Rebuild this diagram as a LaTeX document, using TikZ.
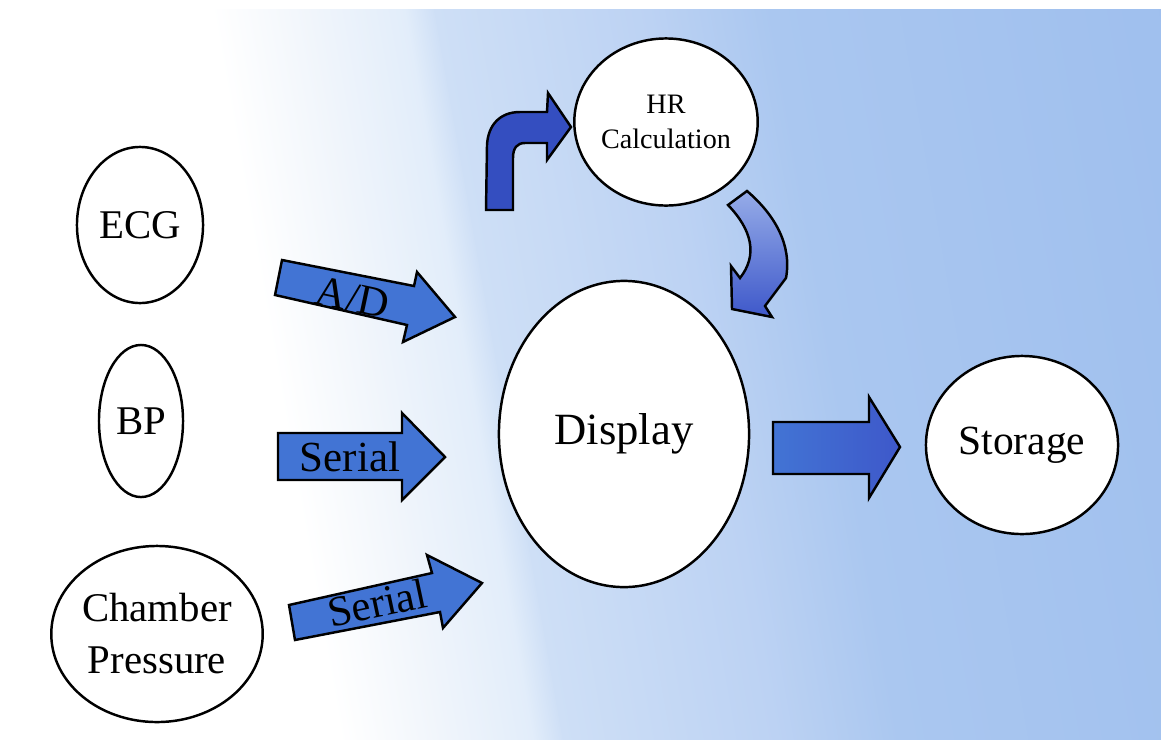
\documentclass[tikz,border=0pt]{standalone}
\usepackage{fontspec}
\setmainfont{Liberation Serif}
\usetikzlibrary{shapes.geometric}
\definecolor{bgA}{RGB}{240,245,251}
\definecolor{bgB}{RGB}{226,237,250}
\definecolor{bgC}{RGB}{206,223,246}
\definecolor{bgD}{RGB}{188,210,243}
\definecolor{bgE}{RGB}{170,199,240}
\definecolor{bgF}{RGB}{156,189,237}
\definecolor{arrowblue}{RGB}{66,116,212}
\definecolor{darkarrow}{RGB}{52,78,192}
\definecolor{paleblue}{RGB}{150,172,232}
\definecolor{deepblue}{RGB}{62,88,202}
\tikzset{
  blob/.style={ellipse, draw=black, line width=0.7pt, fill=white, inner sep=0pt},
  blockarrow/.style={draw=black, line width=0.7pt, fill=arrowblue, line join=miter},
  arrowtext/.style={inner sep=0pt, font=\fontsize{12.2}{13}\selectfont}
}

\begin{document}
\begin{tikzpicture}[x=0.01cm, y=-0.01cm]
  \useasboundingbox (0,0) rectangle (1161,739);
  \fill[white] (0,0) rectangle (1161,739);
  % background, white at the left, blue towards the upper right
  \begin{scope}
    \clip (0,9) rectangle (1161,739);
    \begin{scope}[transform canvas={rotate around={10:(580,374)}}]
      \foreach \from/\to/\cfrom/\cto in {280/381/white/bgA, 380/471/bgA/bgB,
          470/501/bgB/bgC, 500/711/bgC/bgD, 710/831/bgD/bgE, 830/1340/bgE/bgF}
        \shade[left color=\cfrom, right color=\cto] (\from,-386) rectangle (\to,1134);
    \end{scope}
  \end{scope}

  % sources
  \node[blob, minimum width=1.26cm, minimum height=1.56cm,
        font=\fontsize{11.6}{13}\selectfont] (ecg) at (140,225) {ECG};
  \node[blob, minimum width=0.84cm, minimum height=1.52cm,
        font=\fontsize{11.6}{13}\selectfont] (bp) at (141,421) {BP};
  \node[blob, minimum width=2.04cm, minimum height=1.76cm, align=center,
        font=\fontsize{11.6}{14.8}\selectfont] (chamber) at (157,634) {Chamber\\Pressure};

  % centre and outputs
  \node[blob, minimum width=2.5cm, minimum height=3.06cm,
        font=\fontsize{12.7}{14}\selectfont] (display) at (624,434) {Display};
  \node[blob, minimum width=1.66cm, minimum height=1.67cm, align=center,
        font=\fontsize{8}{9.8}\selectfont] (hr) at (666,122) {HR\\Calculation};
  \node[blob, minimum width=1.92cm, minimum height=1.78cm,
        font=\fontsize{11.8}{13}\selectfont] (storage) at (1022,445) {Storage};

  % block arrows
  \draw[blockarrow] (282,260) -- (414,286) -- (417,272) -- (455,317)
    -- (403,342) -- (407,325) -- (275,295) -- cycle;
  \node[arrowtext, rotate=-12] (adtext) at (353,298) {A/D};

  \draw[blockarrow] (278,433) -- (402,433) -- (402,413) -- (445,457)
    -- (402,500) -- (402,480) -- (278,480) -- cycle;
  \node[arrowtext] (serialtext) at (350,457) {Serial};

  \draw[blockarrow] (289,605) -- (432,573) -- (427,555) -- (482,583)
    -- (443,628) -- (440,612) -- (295,640) -- cycle;
  \node[arrowtext, rotate=12] (chambertext) at (377,603) {Serial};

  \shade[draw=black, line width=0.7pt, left color=arrowblue, right color=deepblue]
    (773,422) -- (869,422) -- (869,397) -- (900,447) -- (869,498)
    -- (869,474) -- (773,474) -- cycle;

  % curved arrows round the HR calculation
  \draw[blockarrow, fill=darkarrow] (486,210) -- (487,145)
    .. controls (488,125) and (500,112) .. (520,112) -- (547,112)
    -- (548,93) -- (571,127) -- (547,160) -- (547,143) -- (525,143)
    .. controls (517,143) and (513,148) .. (513,158) -- (513,210) -- cycle;

  \shade[draw=black, line width=0.7pt, top color=paleblue, bottom color=deepblue]
    (728,205) -- (747,191) .. controls (775,215) and (792,245) .. (786,278)
    -- (765,306) -- (772,317) -- (732,309) -- (731,266) -- (740,278)
    .. controls (758,255) and (752,230) .. (728,205) -- cycle;
\end{tikzpicture}
\end{document}
